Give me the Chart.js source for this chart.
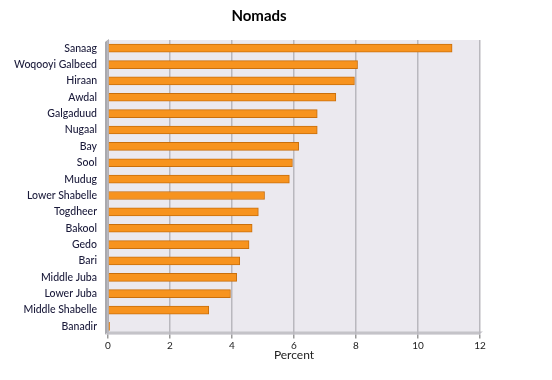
<!DOCTYPE html>
<html><head><meta charset="utf-8">
<script src="https://cdn.jsdelivr.net/npm/chart.js@4/dist/chart.umd.min.js"></script>
<style>html,body{margin:0;padding:0;background:#fff}#wrap{width:552px;height:380px}</style>
</head><body><div id="wrap"><canvas id="c" width="552" height="380"></canvas></div>
<script>
const chartTitle = 'Nomads';
const regions = ["Sanaag","Woqooyi Galbeed","Hiraan","Awdal","Galgaduud","Nugaal","Bay","Sool","Mudug","Lower Shabelle","Togdheer","Bakool","Gedo","Bari","Middle Juba","Lower Juba","Middle Shabelle","Banadir"];
const percent = [11.1,8.05,7.95,7.35,6.75,6.75,6.15,5.95,5.85,5.05,4.85,4.65,4.55,4.25,4.15,3.95,3.25,0.05];
const xTicks = [0,2,4,6,8,10,12];

const bgPlugin = {
  id:'bg',
  beforeDraw(chart){
    const {ctx, chartArea:a} = chart;
    ctx.save();
    ctx.fillStyle='#ebe9ef';
    ctx.fillRect(a.left, a.top, a.right-a.left, a.bottom-a.top);
    ctx.fillStyle='#a9a9ae';
    ctx.beginPath();
    ctx.moveTo(a.left-3, a.top+2); ctx.lineTo(a.left+1, a.top-1);
    ctx.lineTo(a.left+1, a.bottom-3); ctx.lineTo(a.left-3, a.bottom);
    ctx.closePath(); ctx.fill();
    ctx.fillStyle='#c4c3c8';
    ctx.beginPath();
    ctx.moveTo(a.left-3, a.bottom); ctx.lineTo(a.left+1, a.bottom-3);
    ctx.lineTo(a.right+3, a.bottom-3); ctx.lineTo(a.right-1, a.bottom);
    ctx.closePath(); ctx.fill();
    ctx.restore();
  },
  afterDraw(chart){
    const ctx = chart.ctx;
    ctx.save();
    ctx.font = 'bold 15px Lato';
    ctx.fillStyle = '#000';
    ctx.textAlign = 'center';
    ctx.textBaseline = 'middle';
    ctx.fillText(chartTitle, 259, 16);
    ctx.restore();
  }
};

new Chart(document.getElementById('c'), {
  type:'bar',
  data:{labels:regions, datasets:[{data:percent, backgroundColor:'#f7931e', borderColor:'#c96f0c', borderWidth:1, barThickness:8, borderSkipped:'start'}]},
  options:{
    indexAxis:'y', responsive:false, animation:false,
    layout:{padding:{left:2, right:72, top:40, bottom:18}},
    plugins:{
      legend:{display:false}, tooltip:{enabled:false}, title:{display:false}
    },
    scales:{
      x:{min:0,max:12, afterBuildTicks(s){s.ticks = xTicks.map(v=>({value:v}));},
        ticks:{color:'#222', font:{family:'Lato', size:10}, padding:1},
        grid:{color:'#b9b8be', lineWidth:1.5, drawTicks:true, tickLength:4, tickColor:'#999'},
        border:{display:false},
        title:{display:true, text:'Percent', color:'#222', font:{family:'Lato', size:12}, padding:{top:-5,bottom:0}}},
      y:{afterFit(s){ s.width = 106; },
        ticks:{color:'#1a1a3a', font:{family:'Lato', size:10.5, weight:'500'}, padding:3, autoSkip:false},
        grid:{display:false, drawTicks:true}, border:{display:false}}
    }
  },
  plugins:[bgPlugin]
});
</script></body></html>
